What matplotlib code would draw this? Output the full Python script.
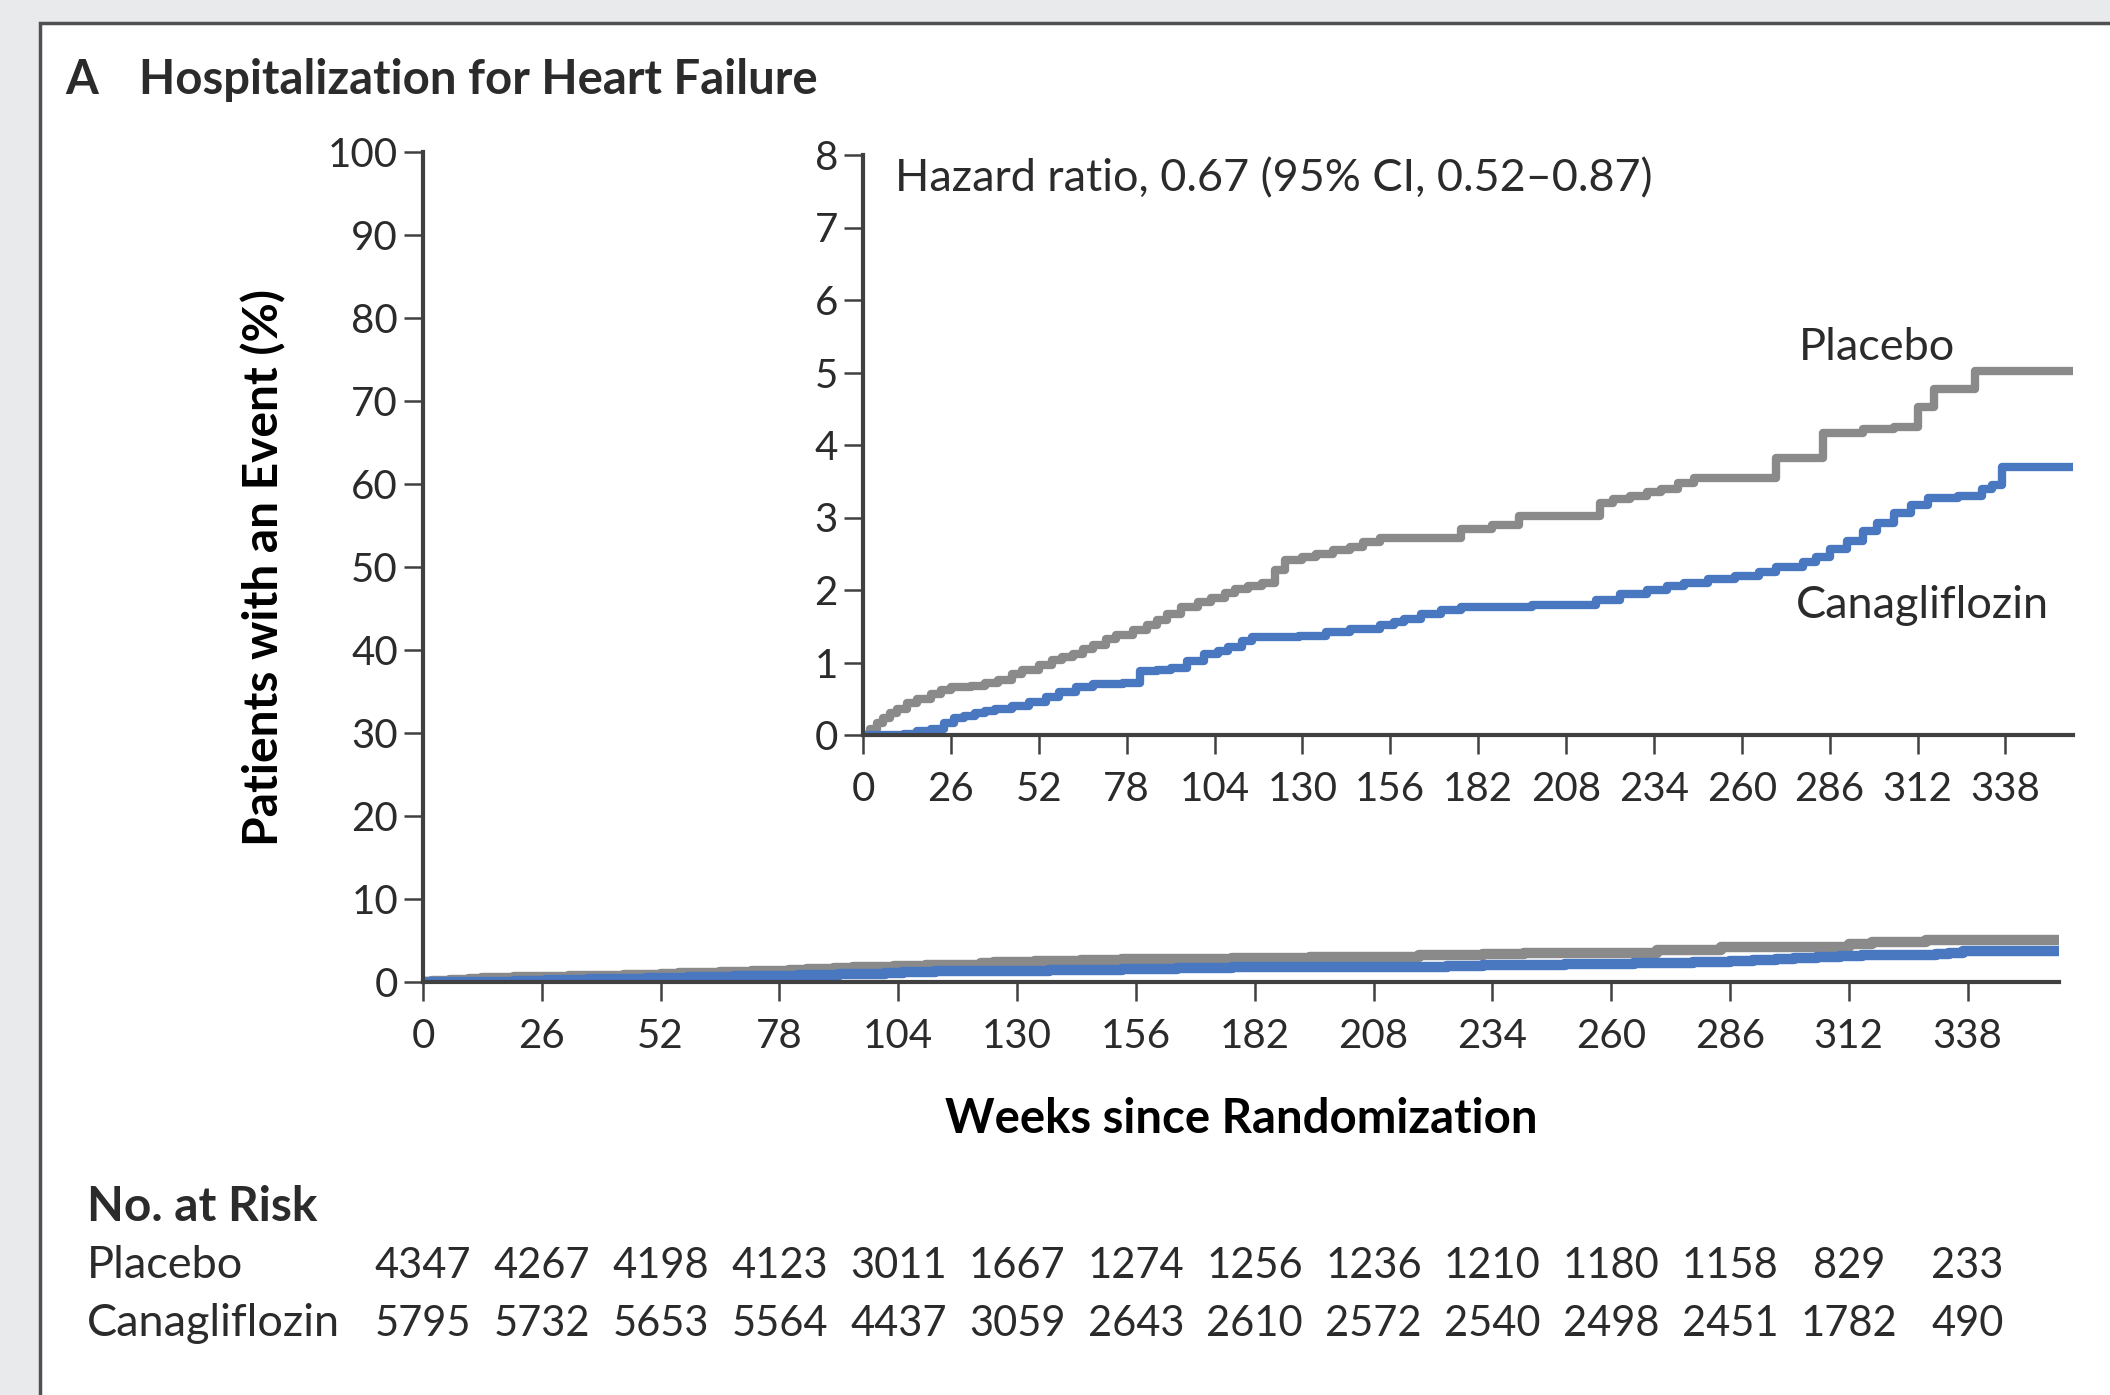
import matplotlib
matplotlib.use('Agg')
import matplotlib.pyplot as plt
import matplotlib.transforms as mtransforms
from matplotlib.patches import Rectangle

plt.rcParams.update({'font.family': ['Lato', 'DejaVu Sans'], 'text.color': '#2b2b2b',
                     'axes.edgecolor': '#404040', 'xtick.color': '#404040',
                     'ytick.color': '#404040', 'xtick.labelcolor': '#2b2b2b',
                     'ytick.labelcolor': '#2b2b2b'})

# Kaplan-Meier step estimates, cumulative % with an event
placebo_wk = [0, 2, 4, 6, 8, 10, 13, 16, 20, 23, 26, 32, 36, 40, 44, 47, 52, 56, 59, 62, 65,
              68, 72, 75, 80, 84, 87, 90, 94, 99, 103, 107, 110, 114, 118, 122, 125, 130, 134,
              139, 144, 148, 153, 177, 186, 194, 218, 222, 227, 232, 236, 241, 246, 270, 284,
              296, 305, 312, 317, 329, 358]
placebo_pct = [0.0, 0.08, 0.16, 0.24, 0.30, 0.36, 0.44, 0.50, 0.56, 0.62, 0.66, 0.68, 0.72,
               0.76, 0.84, 0.90, 0.96, 1.03, 1.07, 1.12, 1.18, 1.24, 1.32, 1.38, 1.45, 1.52,
               1.58, 1.67, 1.77, 1.83, 1.89, 1.96, 2.01, 2.05, 2.10, 2.28, 2.41, 2.46, 2.50,
               2.55, 2.60, 2.66, 2.72, 2.84, 2.90, 3.02, 3.20, 3.25, 3.30, 3.35, 3.39, 3.48,
               3.55, 3.82, 4.16, 4.22, 4.25, 4.53, 4.77, 5.02, 5.02]
cana_wk = [0, 12, 16, 20, 24, 27, 30, 33, 36, 39, 44, 49, 54, 58, 63, 68, 77, 82, 87, 91, 96,
           101, 105, 108, 112, 115, 129, 137, 144, 153, 157, 160, 165, 171, 177, 198, 217,
           224, 232, 238, 243, 250, 258, 265, 270, 278, 282, 286, 291, 296, 300, 305, 310,
           315, 324, 331, 334, 337, 358]
cana_pct = [0.0, 0.02, 0.05, 0.08, 0.16, 0.23, 0.26, 0.30, 0.33, 0.36, 0.40, 0.45, 0.52, 0.60,
            0.66, 0.71, 0.72, 0.88, 0.90, 0.92, 1.02, 1.12, 1.16, 1.21, 1.29, 1.35, 1.37, 1.42,
            1.46, 1.52, 1.56, 1.60, 1.67, 1.72, 1.77, 1.80, 1.86, 1.95, 2.00, 2.05, 2.10, 2.15,
            2.20, 2.25, 2.32, 2.38, 2.45, 2.56, 2.68, 2.81, 2.93, 3.06, 3.17, 3.27, 3.30, 3.39,
            3.45, 3.70, 3.70]

week_ticks = [0, 26, 52, 78, 104, 130, 156, 182, 208, 234, 260, 286, 312, 338]
risk_placebo = [4347, 4267, 4198, 4123, 3011, 1667, 1274, 1256, 1236, 1210, 1180, 1158, 829, 233]
risk_cana = [5795, 5732, 5653, 5564, 4437, 3059, 2643, 2610, 2572, 2540, 2498, 2451, 1782, 490]

GRAY = '#8a8a8a'
BLUE = '#4a78c0'
W, H = 2110, 1395


def fx(px):
    return px / W


def fy(py):
    return 1 - py / H


def style_axes(ax, ymax, lw_spine, tick_len, fs):
    for s in ('top', 'right'):
        ax.spines[s].set_visible(False)
    for s in ('left', 'bottom'):
        ax.spines[s].set_linewidth(lw_spine)
    ax.spines['left'].set_bounds(0, ymax)
    ax.tick_params(direction='out', length=tick_len, width=1.8, labelsize=fs)
    ax.tick_params(axis='x', pad=12)
    ax.tick_params(axis='y', pad=4)
    ax.set_xlim(0, 358)
    ax.set_xticks(week_ticks)
    ax.set_facecolor('none')


fig = plt.figure(figsize=(W / 100, H / 100), dpi=100)
fig.patch.set_facecolor('#e9eaec')
fig.patches.append(Rectangle((fx(40), -0.1), 1.2, fy(23) + 0.1, transform=fig.transFigure,
                             facecolor='white', edgecolor='#505050', linewidth=2.5,
                             zorder=-5))

fig.text(fx(65), fy(94), 'A', fontsize=34, fontweight='bold', va='baseline')
fig.text(fx(139), fy(94), 'Hospitalization for Heart Failure', fontsize=34,
         fontweight='bold', va='baseline')

# full-scale plot
ax = fig.add_axes([fx(423), fy(982), fx(2059) - fx(423), fy(152) - fy(982)])
ax.step(placebo_wk, placebo_pct, where='post', color=GRAY, lw=7.5)
ax.step(cana_wk, cana_pct, where='post', color=BLUE, lw=7.5)
ax.set_ylim(0, 100)
ax.set_yticks(range(0, 101, 10))
style_axes(ax, 100, 3, 14, 29)
ax.set_ylabel('Patients with an Event (%)', fontsize=34.5, fontweight='bold', labelpad=30)
ax.set_xlabel('Weeks since Randomization', fontsize=34, fontweight='bold', labelpad=30)

# zoomed inset
ins = fig.add_axes([fx(863), fy(735), fx(2073) - fx(863), fy(155) - fy(735)])
ins.step(placebo_wk, placebo_pct, where='post', color=GRAY, lw=6)
ins.step(cana_wk, cana_pct, where='post', color=BLUE, lw=6)
ins.set_ylim(0, 8)
ins.set_yticks(range(0, 9))
style_axes(ins, 8, 3, 14, 29)
ins.text(9.5, 7.67, 'Hazard ratio, 0.67 (95% CI, 0.52\u20130.87)', fontsize=32.4, va='center')
ins.text(277, 5.35, 'Placebo', fontsize=32.5, va='center')
ins.text(276, 1.78, 'Canagliflozin', fontsize=32.5, va='center')

# numbers at risk, aligned with the week ticks
trans = mtransforms.blended_transform_factory(ax.transData, fig.transFigure)
fig.text(fx(87), fy(1207), 'No. at Risk', fontsize=34.5, fontweight='bold', va='center')
for label, counts, ypx in (('Placebo', risk_placebo, 1266), ('Canagliflozin', risk_cana, 1324)):
    fig.text(fx(87), fy(ypx), label, fontsize=32.5, va='center')
    for wk, n in zip(week_ticks, counts):
        fig.text(wk, fy(ypx), str(n), fontsize=30, va='center', ha='center', transform=trans)

fig.savefig('out.png', dpi=100, facecolor=fig.get_facecolor())
